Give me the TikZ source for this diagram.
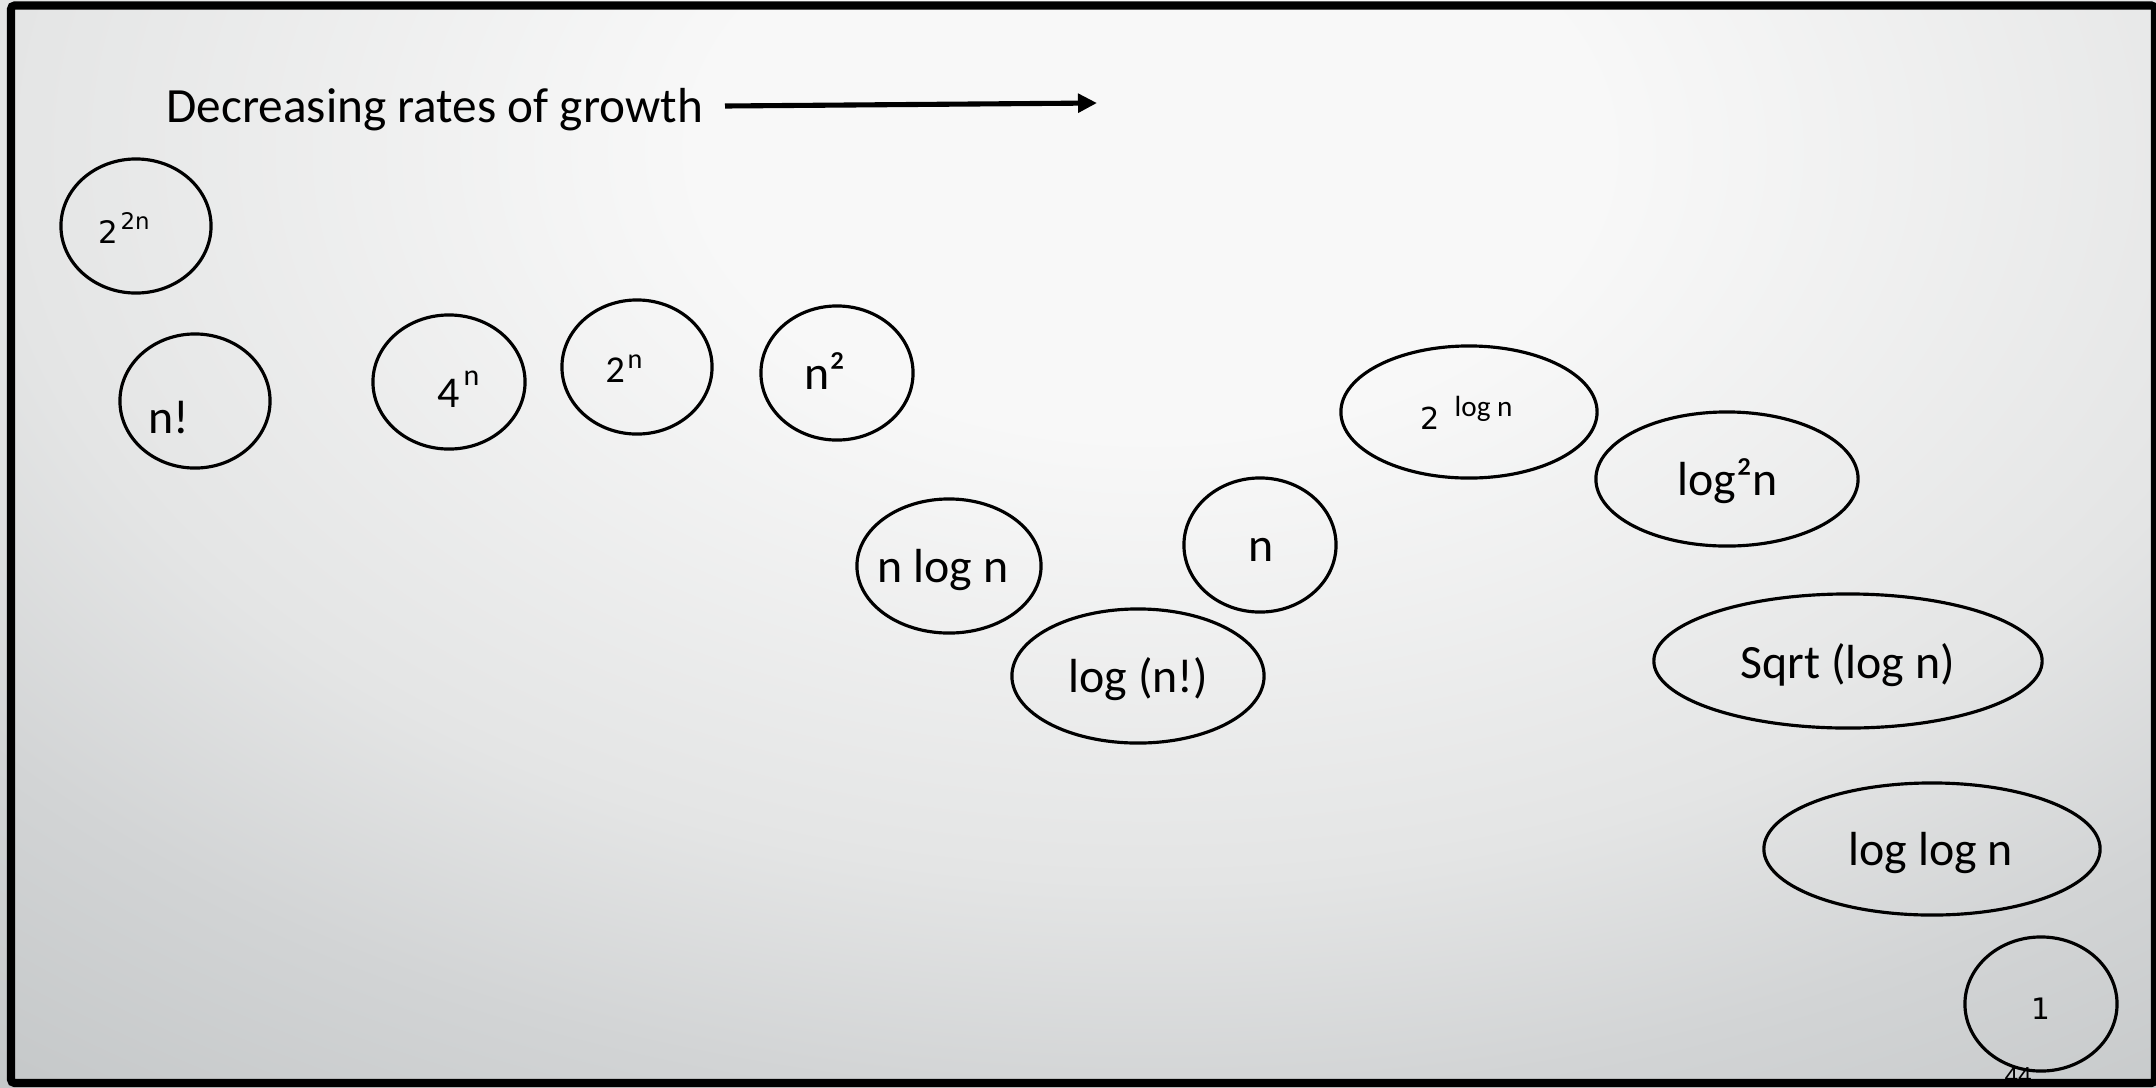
\documentclass[tikz,border=0pt]{standalone}
\usepackage{fontspec}
\setmainfont{Carlito}
\newfontfamily\dejavu{DejaVu Sans}
\usetikzlibrary{shapes.geometric,arrows.meta}
\definecolor{bgA}{HTML}{F8F8F8}
\definecolor{bgB}{HTML}{E4E5E5}
\definecolor{bgC}{HTML}{D2D4D5}
\definecolor{bgD}{HTML}{C5C8C9}
\pgfdeclareradialshading{bgshade}{\pgfpoint{0bp}{0bp}}{color(0bp)=(bgA); color(3.75bp)=(bgA); color(9.6bp)=(bgB); color(12.5bp)=(bgC); color(15.6bp)=(bgD); color(50bp)=(bgD)}
\newcommand{\fsz}[1]{\fontsize{#1}{#1}\selectfont}
\tikzset{
  blob/.style 2 args={draw=black, ellipse, line width=0.9pt, inner sep=0pt,
    minimum width=#1*0.02cm, minimum height=#2*0.02cm},
  lbl/.style={anchor=base west, inner sep=0pt, text=black, font=\fsz{13.6pt}},
  growarrow/.style={line width=1.45pt, -{Triangle[length=5.4pt,width=5.2pt]}},
  frame/.style={draw=black, line width=2.3pt, rounded corners=1pt}
}
\begin{document}
\begin{tikzpicture}[x=0.01cm, y=-0.01cm]
\useasboundingbox (0,0) rectangle (2156,1087);
% background
\begin{scope}
  \clip (0,0) rectangle (2156,1087);
  \shade[shading=bgshade] (1150,150) ellipse (3000 and 1900);
\end{scope}

% title and arrow
\node[lbl, font=\fsz{14pt}] (title) at (166,122) {Decreasing rates of growth};
\coordinate (arrS) at (725,106);
\coordinate (arrE) at (1097,103);
\draw[growarrow] (arrS) -- (arrE);

% ellipses
\node[blob={75}{67}]  (e1)  at (136,226) {};
\node[blob={75}{67}]  (e2)  at (195,401) {};
\node[blob={76}{67}]  (e3)  at (449,382) {};
\node[blob={75}{67}]  (e4)  at (637,367) {};
\node[blob={76}{67}]  (e5)  at (837,373) {};
\node[blob={92}{67}]  (e6)  at (949,566) {};
\node[blob={126}{67}] (e7)  at (1138,676) {};
\node[blob={76}{67}]  (e8)  at (1260,545) {};
\node[blob={128}{66}] (e9)  at (1469,412) {};
\node[blob={131}{67}] (e10) at (1727,479) {};
\node[blob={194}{67}] (e11) at (1848,661) {};
\node[blob={168}{66}] (e12) at (1932,849) {};
\node[blob={76}{67}]  (e13) at (2041,1004) {};

% labels
\node[lbl, font=\dejavu\fsz{8.8pt}] (t1a) at (98,243) {2};
\node[lbl, font=\dejavu\fsz{6.5pt}] (t1b) at (120,229) {2n};
\node[lbl] (t2) at (148,433) {n!};
\node[lbl, font=\fsz{12.5pt}] (t3a) at (437,407) {4};
\node[lbl, font=\fsz{8.5pt}] (t3b) at (463,385) {n};
\node[lbl, font=\fsz{10.8pt}] (t4a) at (605,382) {2};
\node[lbl, font=\fsz{8pt}] (t4b) at (627,368) {n};
\node[lbl] (t5) at (804,389) {n²};
\node[lbl] (t6) at (877,582) {n log n};
\node[lbl] (t7) at (1068,692) {log (n!)};
\node[lbl] (t8) at (1248,561) {n};
\node[lbl, font=\dejavu\fsz{8.6pt}] (t9a) at (1420,429) {2};
\node[lbl, font=\fsz{8.3pt}] (t9b) at (1454,416) {log n};
\node[lbl] (t10) at (1677,495) {log²n};
\node[lbl] (t11) at (1740,678) {Sqrt (log n)};
\node[lbl] (t12) at (1848,865) {log log n};
\node[lbl, font=\dejavu\fsz{8.4pt}] (t13) at (2031,1019) {1};
\node[lbl, font=\fsz{7.5pt}] (pg) at (2004,1084) {44};

% frame
\draw[frame] (11,5.5) rectangle (2155,1083);
\end{tikzpicture}
\end{document}
